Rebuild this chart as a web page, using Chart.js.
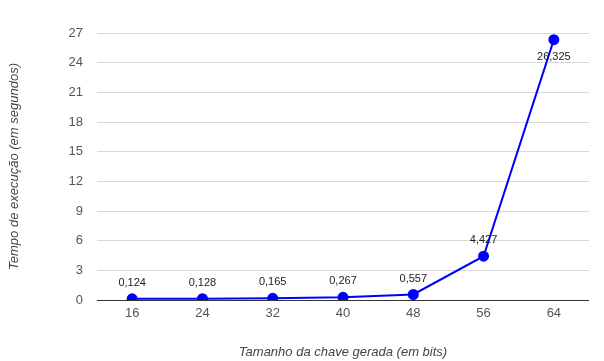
<!DOCTYPE html>
<html><head><meta charset="utf-8">
<script src="https://cdn.jsdelivr.net/npm/chart.js@4/dist/chart.umd.min.js"></script>
<style>html,body{margin:0;padding:0;background:#fff}#w{width:604px;height:361px}</style>
</head><body><div id="w"><canvas id="c" width="604" height="361"></canvas></div>
<script>
const categories = ["16","24","32","40","48","56","64"];
const values = [0.124, 0.128, 0.165, 0.267, 0.557, 4.427, 26.325];
const valueLabels = ["0,124","0,128","0,165","0,267","0,557","4,427","26,325"];
const yTitle = "Tempo de execução (em segundos)";
const xTitle = "Tamanho da chave gerada (em bits)";
const FONT = "'Liberation Sans', Arial, sans-serif";

const labelsPlugin = {
  id: 'labels',
  afterDatasetsDraw(chart) {
    const ctx = chart.ctx;
    const meta = chart.getDatasetMeta(0);
    ctx.save();
    ctx.font = "11px " + FONT;
    ctx.fillStyle = "#222";
    ctx.textAlign = "center";
    ctx.textBaseline = "middle";
    meta.data.forEach((p, i) => {
      const below = p.y - chart.chartArea.top < 20;
      ctx.fillText(valueLabels[i], p.x, below ? p.y + 17 : p.y - 16);
    });
    ctx.restore();
  }
};
const titlesPlugin = {
  id: 'titles',
  afterDraw(chart) {
    const ctx = chart.ctx, a = chart.chartArea;
    ctx.save();
    ctx.font = "italic 13px " + FONT;
    ctx.fillStyle = "#444";
    ctx.textAlign = "center";
    ctx.textBaseline = "middle";
    ctx.fillText(xTitle, (a.left + a.right) / 2, 352);
    ctx.translate(14, (a.top + a.bottom) / 2);
    ctx.rotate(-Math.PI / 2);
    ctx.fillText(yTitle, 0, 0);
    ctx.restore();
  }
};

new Chart(document.getElementById('c'), {
  type: 'line',
  data: {
    labels: categories,
    datasets: [{
      data: values,
      borderColor: '#0000ff',
      backgroundColor: '#0000ff',
      borderWidth: 2,
      pointRadius: 4.5,
      pointHoverRadius: 4.5,
      tension: 0
    }]
  },
  options: {
    responsive: false,
    animation: false,
    layout: { padding: { left: 0, right: 15, top: 33, bottom: 0 } },
    plugins: { legend: { display: false }, tooltip: { enabled: false } },
    scales: {
      x: {
        offset: true,
        grid: { display: false, drawTicks: false },
        border: { display: false },
        ticks: { color: '#555', font: { size: 13, family: FONT }, padding: 6 },
        afterFit(s) { s.height = 61; }
      },
      y: {
        min: 0, max: 27,
        ticks: { stepSize: 3, color: '#555', font: { size: 13, family: FONT }, padding: 14 },
        grid: {
          color: (c) => c.tick && c.tick.value === 0 ? '#333' : '#d9d9d9',
          lineWidth: 1,
          drawTicks: false
        },
        border: { display: false },
        afterFit(s) { s.width = 97; }
      }
    }
  },
  plugins: [labelsPlugin, titlesPlugin]
});
</script></body></html>
